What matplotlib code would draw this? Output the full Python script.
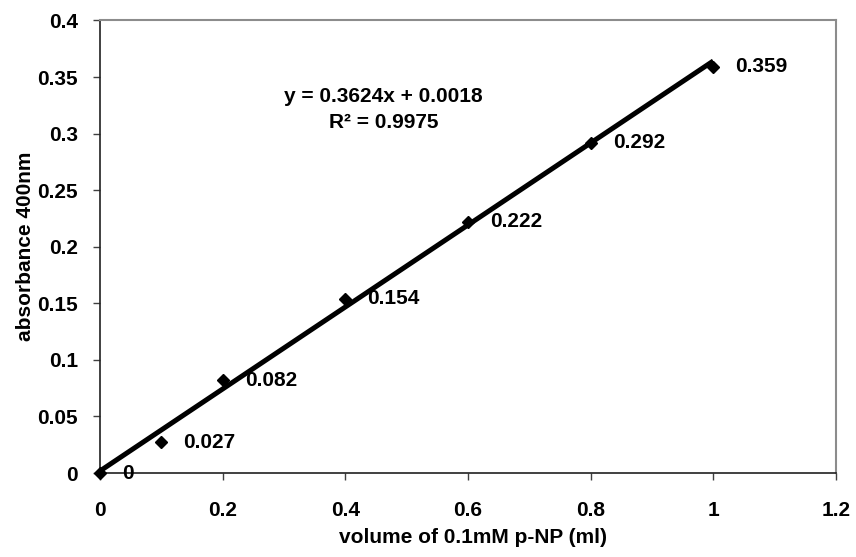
import matplotlib.pyplot as plt
import numpy as np

plt.rcParams['font.family'] = ['Liberation Sans', 'DejaVu Sans']
plt.rcParams['font.weight'] = 'bold'

# p-NP standard curve
volume = [0, 0.1, 0.2, 0.4, 0.6, 0.8, 1.0]
absorbance = [0, 0.027, 0.082, 0.154, 0.222, 0.292, 0.359]
point_labels = ['0', '0.027', '0.082', '0.154', '0.222', '0.292', '0.359']
xticks = [0, 0.2, 0.4, 0.6, 0.8, 1, 1.2]
yticks = [0, 0.05, 0.1, 0.15, 0.2, 0.25, 0.3, 0.35, 0.4]

fs = 15

x = np.array(volume)
y = np.array(absorbance)
slope, intercept = np.polyfit(x, y, 1)
fit = slope * x + intercept
r2 = 1 - np.sum((y - fit) ** 2) / np.sum((y - y.mean()) ** 2)

fig = plt.figure(figsize=(8.56, 5.57), dpi=100)
ax = fig.add_axes([0.1168, 0.1508, 0.8598, 0.8124])

ax.plot(x, y, 'D', color='black', markersize=6.5, zorder=3, clip_on=False)
xs = np.array([x.min(), x.max()])
ax.plot(xs, slope * xs + intercept, color='black', linewidth=3.6, zorder=2,
        solid_capstyle='butt')

for xi, yi, lab in zip(volume, absorbance, point_labels):
    ax.annotate(lab, (xi, yi), xytext=(16, 0), textcoords='offset points',
                ha='left', va='center', fontsize=fs, fontweight='bold')

ax.text(0.4624, 0.3215, 'y = %.4fx + %.4f\nR² = %.4f' % (slope, intercept, r2),
        ha='center', va='center', multialignment='center',
        fontsize=fs, fontweight='bold', linespacing=1.45)

ax.set_xlim(0, 1.2)
ax.set_ylim(0, 0.4)
ax.set_xticks(xticks)
ax.set_yticks(yticks)
ax.set_xticklabels([f'{t:g}' for t in xticks])
ax.set_yticklabels([f'{t:g}' for t in yticks])
ax.tick_params(axis='both', direction='out', length=5, width=1, color='#404040',
               labelsize=fs)
ax.tick_params(axis='x', pad=15)
ax.tick_params(axis='y', pad=11)

for side in ['top', 'right']:
    ax.spines[side].set_color('#8c8c8c')
    ax.spines[side].set_linewidth(1.5)
for side in ['left', 'bottom']:
    ax.spines[side].set_color('#202020')
    ax.spines[side].set_linewidth(1.2)

ax.set_xlabel('volume of 0.1mM p-NP (ml)', fontsize=fs, fontweight='bold')
ax.set_ylabel('absorbance 400nm', fontsize=fs, fontweight='bold')
ax.xaxis.label.set_va('center')
ax.yaxis.label.set_va('center')
ax.xaxis.set_label_coords(0.507, -0.1436)
ax.yaxis.set_label_coords(-0.101, 0.5)

fig.savefig('out.png', dpi=100)
